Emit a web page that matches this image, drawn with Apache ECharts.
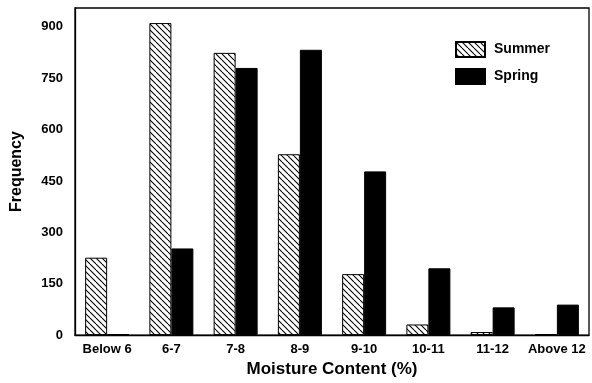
<!DOCTYPE html>
<html>
<head>
<meta charset="utf-8">
<script src="https://cdn.jsdelivr.net/npm/echarts@6/dist/echarts.min.js"></script>
<style>html,body{margin:0;padding:0;background:#fff;}#c{width:592px;height:383px;}</style>
</head>
<body>
<div id="c"></div>
<script>
var categories = ['Below 6', '6-7', '7-8', '8-9', '9-10', '10-11', '11-12', 'Above 12'];
var summer = [226, 911, 824, 528, 178, 31, 9, 3];
var spring = [3, 253, 780, 833, 478, 195, 81, 89];
var yTicks = [0, 150, 300, 450, 600, 750, 900];

function hatch() {
  var s = 6;
  var cv = document.createElement('canvas');
  cv.width = s; cv.height = s;
  var ctx = cv.getContext('2d');
  ctx.fillStyle = '#fff';
  ctx.fillRect(0, 0, s, s);
  ctx.strokeStyle = '#000';
  ctx.lineWidth = 1.1;
  [-s, 0, s].forEach(function (o) {
    ctx.beginPath();
    ctx.moveTo(o, 0);
    ctx.lineTo(o + s, s);
    ctx.stroke();
  });
  return cv;
}

var chart = echarts.init(document.getElementById('c'));
var font = 'Liberation Sans';
chart.setOption({
  animation: false,
  backgroundColor: '#fff',
  grid: { left: 75, right: 3, top: 8, bottom: 46, show: true, borderColor: '#000', borderWidth: 1.3, backgroundColor: 'transparent' },
  legend: {
    orient: 'vertical', left: 450, top: 36, itemWidth: 29, itemHeight: 15, itemGap: 10,
    icon: 'rect',
    textStyle: { fontFamily: font, fontWeight: 'bold', fontSize: 14, color: '#000', padding: [0, 0, 0, 4] },
    data: ['Summer', 'Spring']
  },
  xAxis: {
    type: 'category', data: categories,
    name: 'Moisture Content (%)', nameLocation: 'middle', nameGap: 24,
    nameTextStyle: { fontFamily: font, fontWeight: 'bold', fontSize: 17, color: '#000' },
    axisLine: { lineStyle: { color: '#000', width: 1.3 } },
    axisTick: { show: false },
    axisLabel: { fontFamily: font, fontWeight: 'bold', fontSize: 13, color: '#000', margin: 8, interval: 0 }
  },
  yAxis: {
    type: 'value', min: 0, max: 955, interval: 150,
    name: 'Frequency', nameLocation: 'middle', nameGap: 50,
    nameTextStyle: { fontFamily: font, fontWeight: 'bold', fontSize: 16, color: '#000' },
    axisLine: { show: true, lineStyle: { color: '#000', width: 1.3 } },
    axisTick: { show: false },
    splitLine: { show: false },
    axisLabel: {
      fontFamily: font, fontWeight: 'bold', fontSize: 13, color: '#000', margin: 12,
      showMaxLabel: false,
      formatter: function (v) { return yTicks.indexOf(v) >= 0 ? String(v) : ''; }
    }
  },
  series: [
    { name: 'Summer', type: 'bar', data: summer, barWidth: 22, barGap: '0%',
      itemStyle: { color: { image: hatch(), repeat: 'repeat' }, borderColor: '#000', borderWidth: 1 } },
    { name: 'Spring', type: 'bar', data: spring, barWidth: 22, barGap: '0%',
      itemStyle: { color: '#000', borderColor: '#000', borderWidth: 1 } }
  ]
});
</script>
</body>
</html>
